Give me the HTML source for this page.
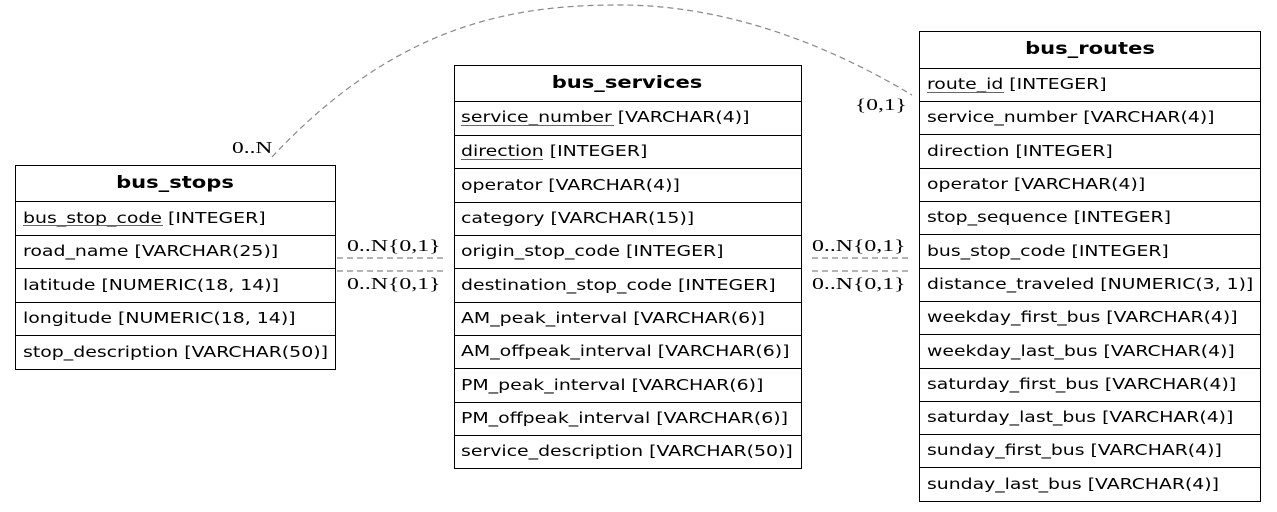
<!DOCTYPE html>
<html><head><meta charset="utf-8"><style>
body{margin:0;background:#fff;width:1277px;height:512px;overflow:hidden}
svg{display:block}
.t{font-family:"DejaVu Sans","Liberation Sans",sans-serif;font-size:15px;fill:#000}
.h{font-family:"DejaVu Sans","Liberation Sans",sans-serif;font-size:17px;font-weight:bold;fill:#000}
.l{font-family:"Liberation Serif","DejaVu Serif",serif;font-size:17px;fill:#000}
</style></head><body>
<svg width="1277" height="512" xmlns="http://www.w3.org/2000/svg">
<g fill="none" stroke="#888" stroke-dasharray="6,4" stroke-width="1.2">
<path d="M272,157 C400,20 520,5 620,5 C720,5 820,40 912,95"/>
<line x1="337" y1="258" x2="444" y2="258"/>
<line x1="337" y1="271" x2="444" y2="271"/>
<line x1="812" y1="258" x2="910" y2="258"/>
<line x1="812" y1="271" x2="910" y2="271"/>
</g>
<g transform="translate(232,0) scale(1.38,1) translate(-232,0)"><text class="l" x="232" y="153">0..N</text></g>
<g transform="translate(855,0) scale(1.38,1) translate(-855,0)"><text class="l" x="855" y="110">{0,1}</text></g>
<g transform="translate(347,0) scale(1.4,1) translate(-347,0)">
<text class="l" x="347" y="251">0..N{0,1}</text>
<text class="l" x="347" y="289">0..N{0,1}</text></g>
<g transform="translate(812,0) scale(1.4,1) translate(-812,0)">
<text class="l" x="812" y="251">0..N{0,1}</text>
<text class="l" x="812" y="289">0..N{0,1}</text></g>

<g stroke="#000" fill="none"><rect x="15.5" y="165.5" width="320" height="204"/>
<line x1="15" y1="201.5" x2="336" y2="201.5"/><line x1="15" y1="235.5" x2="336" y2="235.5"/><line x1="15" y1="268.5" x2="336" y2="268.5"/><line x1="15" y1="302.5" x2="336" y2="302.5"/><line x1="15" y1="335.5" x2="336" y2="335.5"/></g>
<g transform="translate(175,0) scale(1.24,1) translate(-175,0)"><text class="h" x="175" y="188" text-anchor="middle">bus_stops</text></g>
<g transform="translate(23,0) scale(1.26,1) translate(-23,0)">
<text class="t" x="23" y="223">bus_stop_code [INTEGER]</text>
<text class="t" x="23" y="256">road_name [VARCHAR(25)]</text>
<text class="t" x="23" y="290">latitude [NUMERIC(18, 14)]</text>
<text class="t" x="23" y="323">longitude [NUMERIC(18, 14)]</text>
<text class="t" x="23" y="357">stop_description [VARCHAR(50)]</text></g>
<line x1="23" y1="225.5" x2="163" y2="225.5" stroke="#666"/>

<g stroke="#000" fill="none"><rect x="454.5" y="65.5" width="347" height="403"/>
<line x1="454" y1="101.5" x2="802" y2="101.5"/><line x1="454" y1="135.5" x2="802" y2="135.5"/><line x1="454" y1="168.5" x2="802" y2="168.5"/><line x1="454" y1="202.5" x2="802" y2="202.5"/><line x1="454" y1="235.5" x2="802" y2="235.5"/><line x1="454" y1="268.5" x2="802" y2="268.5"/><line x1="454" y1="302.5" x2="802" y2="302.5"/><line x1="454" y1="335.5" x2="802" y2="335.5"/><line x1="454" y1="368.5" x2="802" y2="368.5"/><line x1="454" y1="402.5" x2="802" y2="402.5"/><line x1="454" y1="435.5" x2="802" y2="435.5"/></g>
<g transform="translate(627,0) scale(1.24,1) translate(-627,0)"><text class="h" x="627" y="88" text-anchor="middle">bus_services</text></g>
<g transform="translate(461,0) scale(1.26,1) translate(-461,0)">
<text class="t" x="461" y="122">service_number [VARCHAR(4)]</text>
<text class="t" x="461" y="156">direction [INTEGER]</text>
<text class="t" x="461" y="190">operator [VARCHAR(4)]</text>
<text class="t" x="461" y="223">category [VARCHAR(15)]</text>
<text class="t" x="461" y="256">origin_stop_code [INTEGER]</text>
<text class="t" x="461" y="290">destination_stop_code [INTEGER]</text>
<text class="t" x="461" y="323">AM_peak_interval [VARCHAR(6)]</text>
<text class="t" x="461" y="356">AM_offpeak_interval [VARCHAR(6)]</text>
<text class="t" x="461" y="390">PM_peak_interval [VARCHAR(6)]</text>
<text class="t" x="461" y="423">PM_offpeak_interval [VARCHAR(6)]</text>
<text class="t" x="461" y="456">service_description [VARCHAR(50)]</text></g>
<line x1="461" y1="125.5" x2="614" y2="125.5" stroke="#666"/>
<line x1="461" y1="159.5" x2="543" y2="159.5" stroke="#666"/>

<g stroke="#000" fill="none"><rect x="919.5" y="31.5" width="341" height="470"/>
<line x1="919" y1="68.5" x2="1261" y2="68.5"/><line x1="919" y1="101.5" x2="1261" y2="101.5"/><line x1="919" y1="134.5" x2="1261" y2="134.5"/><line x1="919" y1="168.5" x2="1261" y2="168.5"/><line x1="919" y1="201.5" x2="1261" y2="201.5"/><line x1="919" y1="234.5" x2="1261" y2="234.5"/><line x1="919" y1="268.5" x2="1261" y2="268.5"/><line x1="919" y1="301.5" x2="1261" y2="301.5"/><line x1="919" y1="334.5" x2="1261" y2="334.5"/><line x1="919" y1="368.5" x2="1261" y2="368.5"/><line x1="919" y1="401.5" x2="1261" y2="401.5"/><line x1="919" y1="434.5" x2="1261" y2="434.5"/><line x1="919" y1="467.5" x2="1261" y2="467.5"/></g>
<g transform="translate(1090,0) scale(1.24,1) translate(-1090,0)"><text class="h" x="1090" y="54" text-anchor="middle">bus_routes</text></g>
<g transform="translate(927,0) scale(1.255,1) translate(-927,0)">
<text class="t" x="927" y="89">route_id [INTEGER]</text>
<text class="t" x="927" y="122">service_number [VARCHAR(4)]</text>
<text class="t" x="927" y="156">direction [INTEGER]</text>
<text class="t" x="927" y="189">operator [VARCHAR(4)]</text>
<text class="t" x="927" y="222">stop_sequence [INTEGER]</text>
<text class="t" x="927" y="256">bus_stop_code [INTEGER]</text>
<text class="t" x="927" y="289">distance_traveled [NUMERIC(3, 1)]</text>
<text class="t" x="927" y="322">weekday_first_bus [VARCHAR(4)]</text>
<text class="t" x="927" y="356">weekday_last_bus [VARCHAR(4)]</text>
<text class="t" x="927" y="389">saturday_first_bus [VARCHAR(4)]</text>
<text class="t" x="927" y="422">saturday_last_bus [VARCHAR(4)]</text>
<text class="t" x="927" y="455">sunday_first_bus [VARCHAR(4)]</text>
<text class="t" x="927" y="489">sunday_last_bus [VARCHAR(4)]</text></g>
<line x1="927" y1="92.5" x2="1004" y2="92.5" stroke="#666"/>
</svg>
</body></html>
